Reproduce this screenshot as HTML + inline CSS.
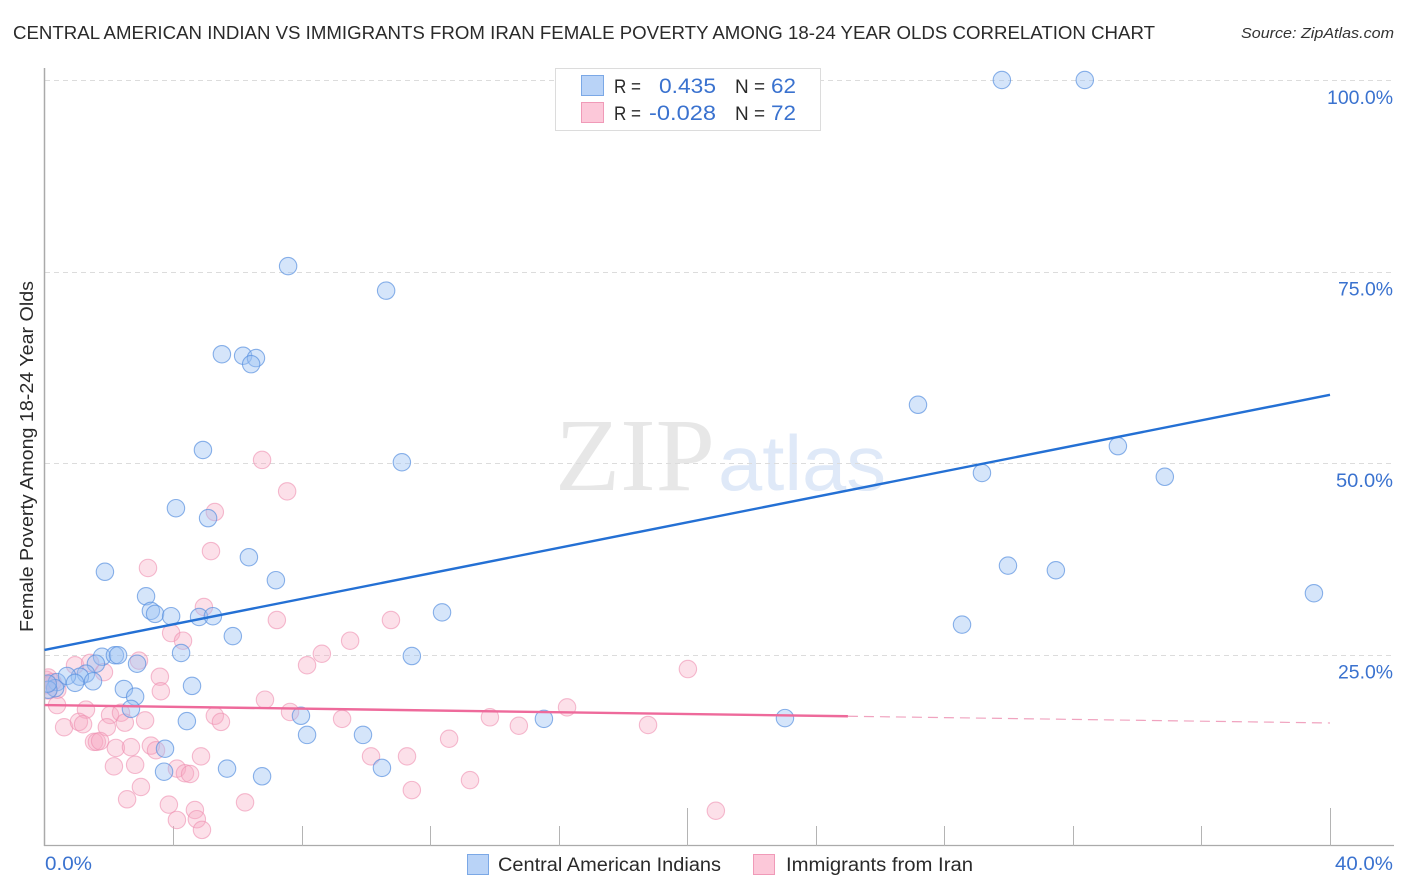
<!DOCTYPE html>
<html>
<head>
<meta charset="utf-8">
<title>Central American Indian vs Immigrants from Iran Female Poverty Correlation Chart</title>
<style>
html,body{margin:0;padding:0;background:#fff;width:1406px;height:892px;overflow:hidden}
svg{display:block;font-family:"Liberation Sans",sans-serif}
</style>
</head>
<body>
<svg id="chart" width="1406" height="892" viewBox="0 0 1406 892" xmlns="http://www.w3.org/2000/svg">
  <defs><clipPath id="plot-clip"><rect x="45" y="60" width="1349" height="786"/></clipPath></defs>
  <rect width="1406" height="892" fill="#fff"/>
  <text x="13" y="39" font-size="18.5" fill="#2a2a2a" textLength="1142" lengthAdjust="spacingAndGlyphs">CENTRAL AMERICAN INDIAN VS IMMIGRANTS FROM IRAN FEMALE POVERTY AMONG 18-24 YEAR OLDS CORRELATION CHART</text>
  <text x="1241" y="38" font-size="15" font-style="italic" fill="#333" textLength="153" lengthAdjust="spacingAndGlyphs">Source: ZipAtlas.com</text>
  <text transform="translate(33,632) rotate(-90)" font-size="18.5" fill="#2a2a2a" textLength="351" lengthAdjust="spacingAndGlyphs">Female Poverty Among 18-24 Year Olds</text>

  <text x="555" y="490" font-family="'Liberation Serif',serif" font-size="104" fill="#e7e7e7" textLength="160" lengthAdjust="spacingAndGlyphs">ZIP</text>
  <text x="718" y="490" font-size="78" fill="#dfe9f8" textLength="168" lengthAdjust="spacingAndGlyphs">atlas</text>

  <g id="grid"></g>
  <g id="axes"></g>
  <g id="points" clip-path="url(#plot-clip)"></g>
  <g id="trends"></g>
  <g id="labels"></g>

  <g>
    <rect x="555.5" y="68.5" width="265" height="62" fill="#fff" stroke="#dcdcdc" stroke-width="1"/>
    <rect x="581.5" y="75.5" width="22" height="20" fill="#b9d3f7" stroke="#7ba8e6" stroke-width="1"/>
    <rect x="581.5" y="102.5" width="22" height="20" fill="#fcc8d9" stroke="#f09ab8" stroke-width="1"/>
    <text x="614" y="93" font-size="19.5" fill="#2a2a2a" textLength="27" lengthAdjust="spacingAndGlyphs">R =</text>
    <text x="659" y="93" font-size="21.5" fill="#3a72cf" textLength="57" lengthAdjust="spacingAndGlyphs">0.435</text>
    <text x="735" y="93" font-size="19.5" fill="#2a2a2a" textLength="30" lengthAdjust="spacingAndGlyphs">N =</text>
    <text x="771" y="93" font-size="21.5" fill="#3a72cf" textLength="25" lengthAdjust="spacingAndGlyphs">62</text>
    <text x="614" y="120" font-size="19.5" fill="#2a2a2a" textLength="27" lengthAdjust="spacingAndGlyphs">R =</text>
    <text x="649" y="120" font-size="21.5" fill="#3a72cf" textLength="67" lengthAdjust="spacingAndGlyphs">-0.028</text>
    <text x="735" y="120" font-size="19.5" fill="#2a2a2a" textLength="30" lengthAdjust="spacingAndGlyphs">N =</text>
    <text x="771" y="120" font-size="21.5" fill="#3a72cf" textLength="25" lengthAdjust="spacingAndGlyphs">72</text>
  </g>

  <g>
    <rect x="467.5" y="854.5" width="21" height="20" fill="#b9d3f7" stroke="#7ba8e6" stroke-width="1"/>
    <text x="498" y="871" font-size="19" fill="#2a2a2a" textLength="223" lengthAdjust="spacingAndGlyphs">Central American Indians</text>
    <rect x="753.5" y="854.5" width="21" height="20" fill="#fcc8d9" stroke="#f09ab8" stroke-width="1"/>
    <text x="786" y="871" font-size="19" fill="#2a2a2a" textLength="187" lengthAdjust="spacingAndGlyphs">Immigrants from Iran</text>
  </g>
</svg>
<script>
var yTicks = [100, 75, 50, 25];
var yTickLabels = ["100.0%", "75.0%", "50.0%", "25.0%"];
var yTickLabelWidths = [66, 55, 57, 55];
var xTicks = [4, 8, 12, 16, 20, 24, 28, 32, 36, 40];
var xMajorTicks = [20, 40];
var xEndLabels = ["0.0%", "40.0%"];

var blueX = [29.79,32.37,7.58,10.63,5.52,6.18,6.58,6.43,27.18,4.93,33.40,11.12,29.17,34.86,4.09,5.09,6.36,1.88,29.98,31.47,7.20,3.16,39.50,3.31,3.44,3.94,4.81,5.24,12.37,5.86,28.55,4.25,11.43,1.79,2.19,2.29,2.88,1.60,1.29,1.10,1.51,2.47,4.59,2.82,2.69,4.43,7.98,15.54,23.04,8.17,9.91,3.75,10.50,5.68,3.72,6.77,0.39,0.33,0.70,0.12,0.95,0.10];
var blueY = [100,100,75.7,72.5,64.2,64.0,63.7,62.9,57.6,51.7,52.2,50.1,48.7,48.2,44.1,42.8,37.7,35.8,36.6,36.0,34.7,32.6,33.0,30.7,30.3,30.0,29.9,30.0,30.5,27.4,28.9,25.2,24.8,24.7,24.9,24.9,23.8,23.8,22.5,22.1,21.5,20.5,20.9,19.5,17.9,16.3,17.0,16.6,16.7,14.5,14.5,12.7,10.2,10.1,9.7,9.1,21.4,20.6,22.2,20.4,21.3,21.2];

var pinkX = [6.77,7.55,5.30,5.18,3.22,4.96,7.23,10.78,3.94,4.31,9.51,8.63,8.17,2.94,20.02,0.95,1.42,1.85,3.59,3.62,6.86,0.39,1.29,0.61,1.07,1.20,2.04,2.38,1.94,2.50,3.13,5.30,5.49,7.64,9.26,1.54,1.63,1.73,2.22,2.69,3.31,3.47,4.87,2.16,2.82,4.12,4.37,4.53,3.00,2.57,3.87,6.24,4.68,4.12,4.74,4.90,10.16,11.28,12.59,11.43,13.24,20.89,13.86,14.76,16.26,18.78,0.05,0.05,0.12,0.12,0.25,0.40];
var pinkY = [50.4,46.3,43.6,38.5,36.3,31.2,29.5,29.5,27.8,26.8,26.8,25.1,23.6,24.2,23.1,23.6,23.9,22.7,22.1,20.2,19.1,18.4,17.8,15.5,16.2,15.9,17.1,17.4,15.5,16.1,16.4,17.0,16.2,17.5,16.6,13.6,13.6,13.7,12.8,12.9,13.1,12.5,11.7,10.4,10.6,10.1,9.5,9.4,7.7,6.1,5.4,5.7,4.7,3.4,3.5,2.1,11.7,11.7,14.0,7.3,8.6,4.6,16.8,15.7,18.1,15.8,21.7,21.0,22.0,20.3,21.4,20.4];

var blueTrendY = [25.6, 58.9];
var pinkTrendY = [18.4, 16.06];
var pinkSolidEndX = 25;
var trendX = [0, 40];

var NS = "http://www.w3.org/2000/svg";
function xScale(v) { return 44.5 + v * (1330 - 44.5) / 40; }
function yScale(v) { return 846 - v * (846 - 80) / 100; }
function make(tag, attrs, parent) {
  var el = document.createElementNS(NS, tag);
  for (var k in attrs) el.setAttribute(k, attrs[k]);
  parent.appendChild(el);
  return el;
}
var grid = document.getElementById("grid");
var axes = document.getElementById("axes");
var points = document.getElementById("points");
var trends = document.getElementById("trends");
var labels = document.getElementById("labels");

yTicks.forEach(function (t, i) {
  var y = Math.round(yScale(t)) + 0.5;
  var line = make("line", { x1: 45, x2: 1394, y1: y, y2: y, stroke: "#dcdcdc", "stroke-width": 1, "stroke-dasharray": "5 4" }, grid);
  
  
  var label = make("text", { x: 1393 - yTickLabelWidths[i], y: yScale(t) + 24, "font-size": 19.5, fill: "#3a72cf", textLength: yTickLabelWidths[i], lengthAdjust: "spacingAndGlyphs" }, labels);
  label.textContent = yTickLabels[i];
  
  
});

var yAxis = make("line", { x1: 44.5, x2: 44.5, y1: 68, y2: 846, stroke: "#aaa", "stroke-width": 1.5 }, axes);


var xAxis = make("line", { x1: 44, x2: 1394, y1: 845.5, y2: 845.5, stroke: "#aaa", "stroke-width": 1.2 }, axes);


xTicks.forEach(function (t) {
  var x = Math.round(xScale(t)) + 0.5;
  var top = xMajorTicks.indexOf(t) >= 0 ? 808 : 826;
  var tick = make("line", { x1: x, x2: x, y1: top, y2: 846, stroke: "#b4b4b4", "stroke-width": 1 }, axes);
  
  
});
var xLabel0 = make("text", { x: 45, y: 870, "font-size": 19.5, fill: "#3a72cf", textLength: 47, lengthAdjust: "spacingAndGlyphs" }, labels);
xLabel0.textContent = xEndLabels[0];


var xLabel1 = make("text", { x: 1335, y: 870, "font-size": 19.5, fill: "#3a72cf", textLength: 58, lengthAdjust: "spacingAndGlyphs" }, labels);
xLabel1.textContent = xEndLabels[1];



pinkX.forEach(function (v, i) {
  var c = make("circle", { cx: xScale(v), cy: yScale(pinkY[i]), r: 8.7, fill: "#f7a9c3", "fill-opacity": 0.36, stroke: "#ee8fb0", "stroke-opacity": 0.6, "stroke-width": 1.1 }, points);
  
  
});
blueX.forEach(function (v, i) {
  var c = make("circle", { cx: xScale(v), cy: yScale(blueY[i]), r: 8.7, fill: "#9cc2f2", "fill-opacity": 0.42, stroke: "#5a92e0", "stroke-opacity": 0.7, "stroke-width": 1.1 }, points);
  
  
});

var blueTrend = make("line", { x1: xScale(trendX[0]), y1: yScale(blueTrendY[0]), x2: xScale(trendX[1]), y2: yScale(blueTrendY[1]), stroke: "#2470d4", "stroke-width": 2.4 }, trends);


function pinkAt(x) { return pinkTrendY[0] + (pinkTrendY[1] - pinkTrendY[0]) * (x - trendX[0]) / (trendX[1] - trendX[0]); }
var pinkTrend = make("line", { x1: xScale(trendX[0]), y1: yScale(pinkTrendY[0]), x2: xScale(pinkSolidEndX), y2: yScale(pinkAt(pinkSolidEndX)), stroke: "#ee6a9b", "stroke-width": 2.4 }, trends);


var pinkDash = make("line", { x1: xScale(pinkSolidEndX), y1: yScale(pinkAt(pinkSolidEndX)), x2: xScale(trendX[1]), y2: yScale(pinkTrendY[1]), stroke: "#f0a3bf", "stroke-width": 1.2, "stroke-dasharray": "10 6" }, trends);


</script>
</body>
</html>
